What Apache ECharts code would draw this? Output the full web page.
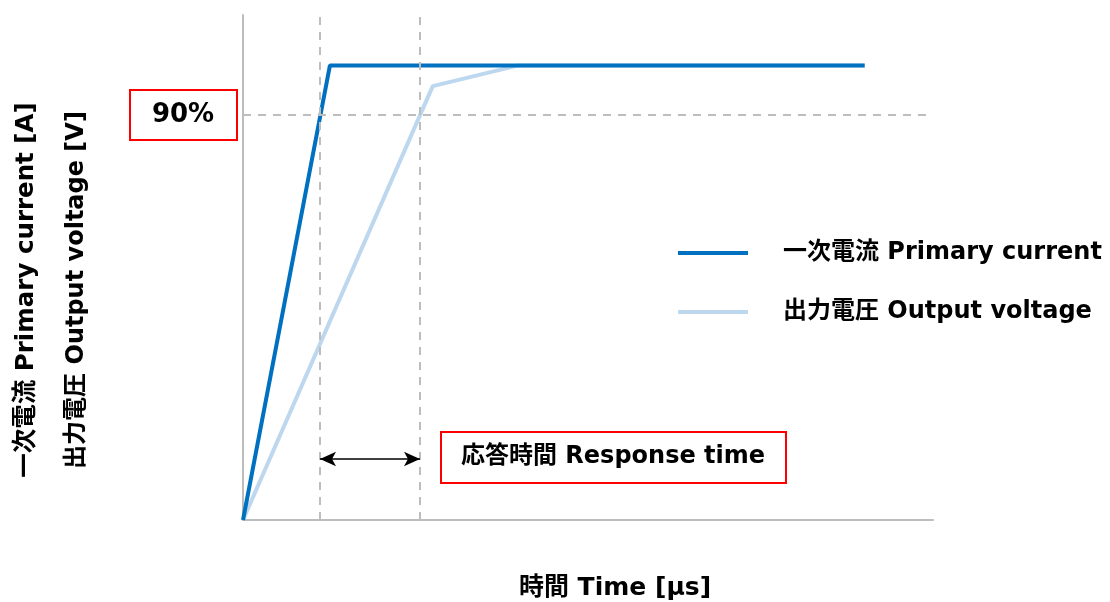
<!DOCTYPE html>
<html>
<head>
<meta charset="utf-8">
<script src="https://cdn.jsdelivr.net/npm/echarts@6/dist/echarts.min.js"></script>
<style>
html,body{margin:0;padding:0;background:#fff;}
#chart{width:1110px;height:602px;}
</style>
</head>
<body>
<div id="chart"></div>
<script>
// ---- data (time in arbitrary units, output in % of full scale) ----
const seriesNames = ['一次電流 Primary current', '出力電圧 Output voltage'];
const primaryCurrent = [[0, 0], [12.6, 101], [90.1, 101]];
const outputVoltage = [[0, 0], [27.5, 96.4], [39.9, 101], [90.1, 101]];
const levelPercent = 90;            // 90 % threshold
const currentAt90 = 11.16;          // time where current crosses 90 %
const voltageAt90 = 25.65;          // time where voltage crosses 90 %
const arrowLevel = 13.56;           // height of response-time arrow
const label90 = '90%';
const labelResponse = '応答時間 Response time';
const xTitle = '時間 Time [μs]';
const yTitle1 = '一次電流 Primary current [A]';
const yTitle2 = '出力電圧 Output voltage [V]';

const FONT = '"DejaVu Sans", "Noto Sans CJK JP", sans-serif';
const gray = '#bdbdbd';

const chart = echarts.init(document.getElementById('chart'));
chart.setOption({
  backgroundColor: '#fff',
  animation: false,
  grid: {left: 243, right: 177, top: 15, bottom: 82},
  xAxis: {
    type: 'value', min: 0, max: 100,
    axisLine: {show: true, lineStyle: {color: gray, width: 2}},
    axisTick: {show: false}, axisLabel: {show: false}, splitLine: {show: false}
  },
  yAxis: {
    type: 'value', min: 0, max: 112.2,
    axisLine: {show: true, lineStyle: {color: gray, width: 2}},
    axisTick: {show: false}, axisLabel: {show: false}, splitLine: {show: false}
  },
  legend: {
    orient: 'vertical', left: 673, top: 235,
    icon: 'rect', itemWidth: 70, itemHeight: 4, itemGap: 33,
    data: seriesNames,
    textStyle: {fontFamily: FONT, fontWeight: 'bold', fontSize: 24, color: '#000',
      padding: [0, 0, 0, 30], lineHeight: 26}
  },
  series: [
    {
      type: 'line', data: [], z: 1, silent: true,
      markLine: {
        silent: true, symbol: 'none', animation: false,
        label: {show: false},
        lineStyle: {color: gray, type: [8, 7], width: 2},
        data: [
          {xAxis: currentAt90},
          {xAxis: voltageAt90},
          {yAxis: levelPercent}
        ]
      }
    },
    {
      name: seriesNames[1], type: 'line', data: outputVoltage, z: 2,
      showSymbol: false, symbol: 'none',
      lineStyle: {color: '#bdd7ee', width: 4}, itemStyle: {color: '#bdd7ee'},
      markLine: {
        silent: true, animation: false, symbol: ['arrow', 'arrow'], symbolSize: [11, 16],
        label: {show: false},
        lineStyle: {color: '#000', type: 'solid', width: 1.5},
        data: [[{coord: [currentAt90, arrowLevel]}, {coord: [voltageAt90, arrowLevel]}]]
      }
    },
    {
      name: seriesNames[0], type: 'line', data: primaryCurrent, z: 3,
      showSymbol: false, symbol: 'none',
      lineStyle: {color: '#0070c0', width: 4}, itemStyle: {color: '#0070c0'}
    }
  ],
  graphic: [
    {type: 'rect', shape: {x: 130, y: 90, width: 107, height: 50},
      style: {fill: '#fff', stroke: '#ff0000', lineWidth: 2}},
    {type: 'text', x: 183, y: 115, style: {text: label90, font: 'bold 26px ' + FONT,
      fill: '#000', align: 'center', verticalAlign: 'middle'}},
    {type: 'rect', shape: {x: 441, y: 432, width: 345, height: 51},
      style: {fill: '#fff', stroke: '#ff0000', lineWidth: 2}},
    {type: 'text', x: 461, y: 457, style: {text: labelResponse, font: 'bold 24px ' + FONT,
      fill: '#000', align: 'left', verticalAlign: 'middle'}},
    {type: 'text', x: 615, y: 588, style: {text: xTitle, font: 'bold 25px ' + FONT,
      fill: '#000', align: 'center', verticalAlign: 'middle'}},
    {type: 'text', x: 27, y: 290, rotation: Math.PI / 2, style: {text: yTitle1,
      font: 'bold 24.5px ' + FONT, fill: '#000', align: 'center', verticalAlign: 'middle'}},
    {type: 'text', x: 77, y: 290, rotation: Math.PI / 2, style: {text: yTitle2,
      font: 'bold 24px ' + FONT, fill: '#000', align: 'center', verticalAlign: 'middle'}}
  ]
});
</script>
</body>
</html>
